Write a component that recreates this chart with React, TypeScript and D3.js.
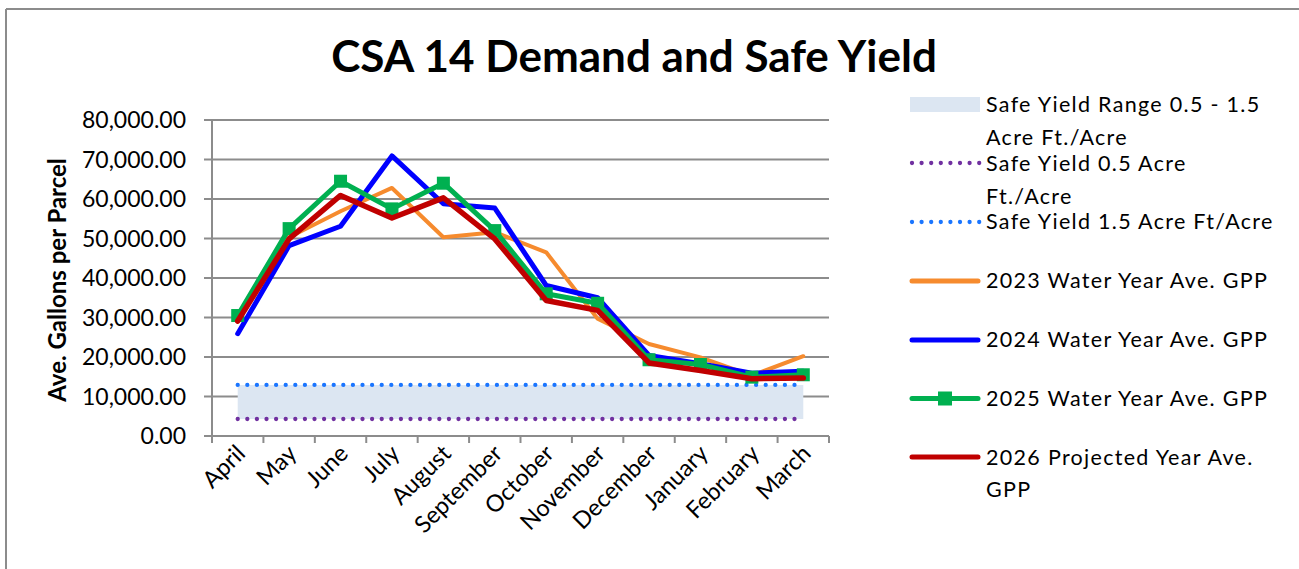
import React from "react";
import * as d3 from "d3";

const months = ["April","May","June","July","August","September","October","November","December","January","February","March"];
const yTicks = [0, 10000, 20000, 30000, 40000, 50000, 60000, 70000, 80000];

const safeLow = [4310,4310,4310,4310,4310,4310,4310,4310,4310,4310,4310,4310];
const safeHigh = [12930,12930,12930,12930,12930,12930,12930,12930,12930,12930,12930,12930];
const wy2023 = [29000, 50300, 56900, 62800, 50300, 51600, 46500, 29700, 23300, 19900, 15300, 20200];
const wy2024 = [25900, 48200, 53100, 70900, 58800, 57700, 38100, 35000, 20400, 18300, 15900, 16400];
const wy2025 = [30500, 52500, 64500, 57500, 64000, 52000, 36000, 33600, 19300, 18100, 14900, 15500];
const wy2026 = [29100, 49900, 60900, 55200, 60300, 49900, 34300, 31800, 18500, 16600, 14500, 14700];

const FONT = "Lato, 'Open Sans', sans-serif";

export default function App() {
  const W = 1299, H = 569;
  const x = d3.scaleBand<string>().domain(months).range([212, 829]);
  const cx = (i: number) => (x(months[i]) as number) + x.bandwidth() / 2;
  const y = d3.scaleLinear().domain([0, 80000]).range([436, 120]);
  const line = d3.line<number>().x((_, i) => cx(i)).y((d) => y(d));
  const area = d3.area<number>().x((_, i) => cx(i)).y0((_, i) => y(safeLow[i])).y1((d) => y(d));
  const fmt = d3.format(",.2f");
  const gridColor = "#8c8c8c";

  const series = [
    { data: wy2023, color: "#F68B2E", w: 4 },
    { data: wy2024, color: "#0000FF", w: 5 },
    { data: wy2025, color: "#00B050", w: 5, marker: true },
    { data: wy2026, color: "#C00000", w: 5.5 },
  ];

  const legendX0 = 910, legendX1 = 980, textX = 986;
  const lt = { fontFamily: FONT, fontSize: 21.5, letterSpacing: 1.3, fill: "#000" } as const;

  return (
    <div style={{ position: "fixed", left: 0, top: 0 }}>
      <svg width={W} height={H} style={{ display: "block", background: "#fff" }}>
        <rect x={0} y={0} width={W} height={H} fill="#fff" />
        {/* chart border */}
        <line x1={6} y1={9} x2={W} y2={9} stroke="#8c8c8c" strokeWidth={2} />
        <line x1={6} y1={9} x2={6} y2={H} stroke="#8c8c8c" strokeWidth={2} />

        <text x={634} y={72} textAnchor="middle" fontFamily={FONT} fontWeight={700} fontSize={44} fill="#000">
          CSA 14 Demand and Safe Yield
        </text>

        {/* gridlines */}
        {yTicks.map((t) => (
          <line key={t} x1={204} x2={829} y1={y(t)} y2={y(t)} stroke={gridColor} strokeWidth={2} />
        ))}
        {/* y axis */}
        <line x1={212} x2={212} y1={120} y2={436} stroke={gridColor} strokeWidth={2} />
        {/* x ticks */}
        {d3.range(months.length + 1).map((i) => {
          const xx = i < months.length ? (x(months[i]) as number) : 829;
          return <line key={i} x1={xx} x2={xx} y1={436} y2={443} stroke={gridColor} strokeWidth={2} />;
        })}
        {yTicks.map((t) => (
          <text key={t} x={186} y={y(t)} dy="0.35em" textAnchor="end" fontFamily={FONT} fontSize={23} fill="#000">
            {fmt(t)}
          </text>
        ))}
        <text transform={`translate(66,280) rotate(-90)`} textAnchor="middle" fontFamily={FONT} fontWeight={700} fontSize={24} fill="#000">
          Ave. Gallons per Parcel
        </text>
        {months.map((m, i) => (
          <text key={m} transform={`translate(${cx(i) + 9},${455}) rotate(-45)`} textAnchor="end" fontFamily={FONT} fontSize={23.5} fill="#000">
            {m}
          </text>
        ))}

        {/* safe yield band */}
        <path d={area(safeHigh) as string} fill="#DCE6F2" />
        <path d={line(safeLow) as string} fill="none" stroke="#7030A0" strokeWidth={4.3} strokeLinecap="round" strokeDasharray="0 9.6" />
        <path d={line(safeHigh) as string} fill="none" stroke="#1A75FF" strokeWidth={4.3} strokeLinecap="round" strokeDasharray="0 9.6" />

        {series.map((s, k) => (
          <g key={k}>
            <path d={line(s.data) as string} fill="none" stroke={s.color} strokeWidth={s.w} strokeLinecap="round" strokeLinejoin="round" />
            {s.marker && s.data.map((d, i) => (
              <rect key={i} x={cx(i) - 6.5} y={y(d) - 6.5} width={13} height={13} fill={s.color} />
            ))}
          </g>
        ))}

        {/* legend */}
        <rect x={legendX0} y={97} width={legendX1 - legendX0} height={15} fill="#DCE6F2" />
        <text x={textX} y={112} {...lt}>Safe Yield Range 0.5 - 1.5</text>
        <text x={textX} y={145} {...lt}>Acre Ft./Acre</text>
        <line x1={legendX0 + 2} x2={legendX1} y1={163} y2={163} stroke="#7030A0" strokeWidth={4.3} strokeLinecap="round" strokeDasharray="0 9.6" />
        <text x={textX} y={171} {...lt}>Safe Yield 0.5 Acre</text>
        <text x={textX} y={204} {...lt}>Ft./Acre</text>
        <line x1={legendX0 + 2} x2={legendX1} y1={222} y2={222} stroke="#1A75FF" strokeWidth={4.3} strokeLinecap="round" strokeDasharray="0 9.6" />
        <text x={textX} y={229} {...lt}>Safe Yield 1.5 Acre Ft/Acre</text>

        <line x1={legendX0 + 2} x2={legendX1 - 2} y1={281} y2={281} stroke="#F68B2E" strokeWidth={5} strokeLinecap="round" />
        <text x={textX} y={288} {...lt}>2023 Water Year Ave. GPP</text>
        <line x1={legendX0 + 2} x2={legendX1 - 2} y1={340} y2={340} stroke="#0000FF" strokeWidth={5} strokeLinecap="round" />
        <text x={textX} y={347} {...lt}>2024 Water Year Ave. GPP</text>
        <line x1={legendX0 + 2} x2={legendX1 - 2} y1={398.5} y2={398.5} stroke="#00B050" strokeWidth={5} strokeLinecap="round" />
        <rect x={945 - 7} y={398.5 - 7} width={14} height={14} fill="#00B050" />
        <text x={textX} y={406} {...lt}>2025 Water Year Ave. GPP</text>
        <line x1={legendX0 + 2} x2={legendX1 - 2} y1={457} y2={457} stroke="#C00000" strokeWidth={5} strokeLinecap="round" />
        <text x={textX} y={465} {...lt}>2026 Projected Year Ave.</text>
        <text x={textX} y={497} {...lt}>GPP</text>
      </svg>
    </div>
  );
}
